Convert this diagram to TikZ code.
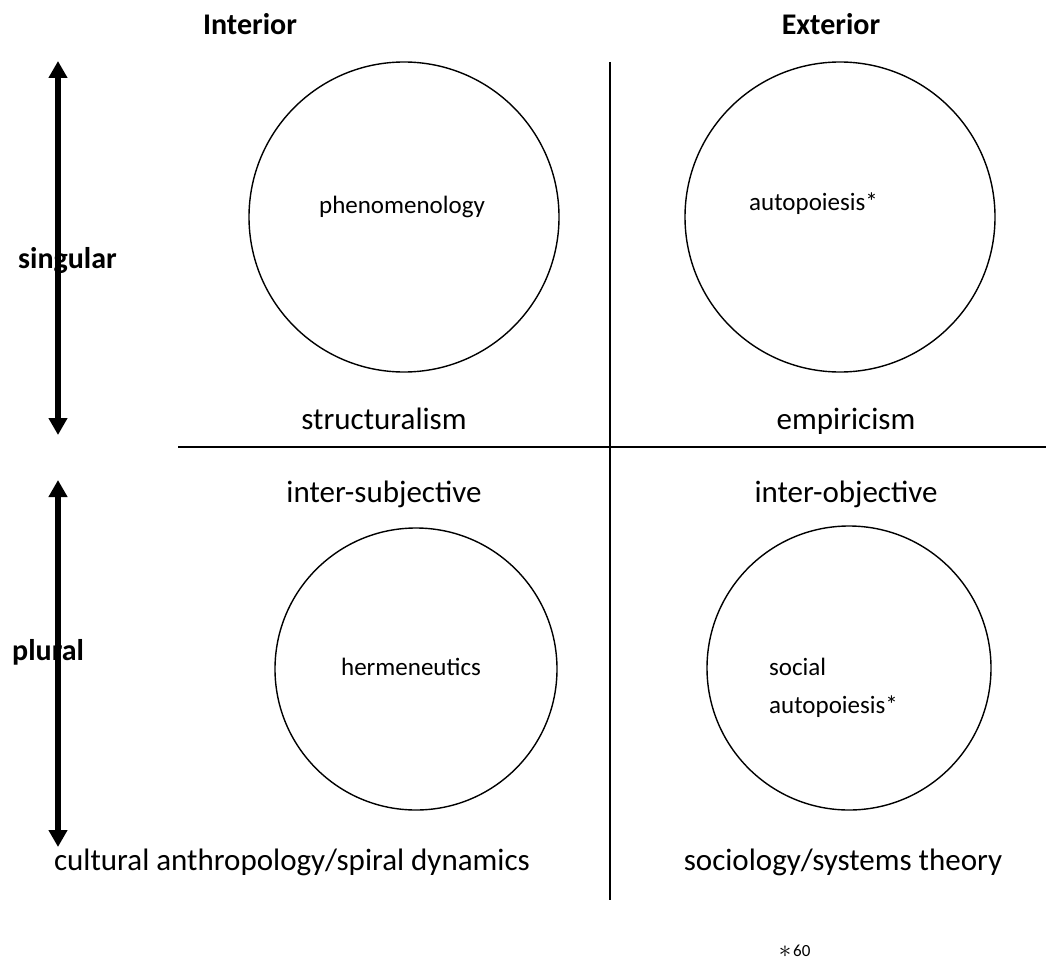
\documentclass[tikz,border=0pt]{standalone}
\usepackage{fontspec}
\setmainfont{Carlito}
\usetikzlibrary{arrows.meta}
\begin{document}
\begin{tikzpicture}[x=1pt,y=-1pt,
  big/.style={font=\fontsize{31}{36}\selectfont, inner sep=0pt, anchor=base},
  small/.style={font=\fontsize{25}{38}\selectfont, inner sep=0pt, anchor=base},
  head/.style={font=\fontsize{30}{36}\selectfont\bfseries, inner sep=0pt, anchor=base},
  ring/.style={draw, circle, line width=1.4pt, inner sep=0pt},
  divider/.style={line width=1.8pt},
  thick arrow/.style={line width=5.5pt, {Triangle[width=18pt,length=17pt]}-{Triangle[width=18pt,length=17pt]}}
]
\useasboundingbox (0,0) rectangle (1048,960);

% headings
\node[head] (interior) at (250,35) {Interior};
\node[head] (exterior) at (831,35) {Exterior};

% divider lines
\coordinate (vtop) at (610,62);
\coordinate (vbot) at (610,900);
\coordinate (hleft) at (178,447);
\coordinate (hright) at (1046,447);
\draw[divider] (vtop) -- (vbot);
\draw[divider] (hleft) -- (hright);

% arrows
\coordinate (a1t) at (58,61);
\coordinate (a1b) at (58,435);
\coordinate (a2t) at (58,480);
\coordinate (a2b) at (58,847);
\draw[thick arrow] (a1t) -- (a1b);
\draw[thick arrow] (a2t) -- (a2b);

% side labels
\node[head, anchor=base west] (singular) at (18,268) {singular};
\node[head, anchor=base west] (plural) at (12,660) {plural};

% circles
\node[ring, minimum size=310pt] (c1) at (404,217) {};
\node[ring, minimum size=310pt] (c2) at (840,217) {};
\node[ring, minimum size=282pt] (c3) at (416,669) {};
\node[ring, minimum size=284pt] (c4) at (849,668) {};

% circle texts
\node[small] (phen) at (402,213) {phenomenology};
\node[small, anchor=base west] (auto) at (749,210) {autopoiesis*};
\node[small] (herm) at (411,675) {hermeneutics};
\node[small, anchor=base west] (soc) at (769,675) {social};
\node[small, anchor=base west] (soc2) at (769,713) {autopoiesis*};

% quadrant labels
\node[big] (struct) at (384,429) {structuralism};
\node[big] (emp) at (846,429) {empiricism};
\node[big] (intsub) at (384,502) {inter-subjective};
\node[big] (intobj) at (846,502) {inter-objective};
\node[big] (cult) at (292,870) {cultural anthropology/spiral dynamics};
\node[big] (sociol) at (843,870) {sociology/systems theory};

% footnote mark
\node[inner sep=0pt] (fnstar) at (785,952) {\fontsize{32}{32}\selectfont$\ast$};
\node[inner sep=0pt, anchor=base west, font=\fontsize{17}{17}\selectfont] (fnnum) at (793,956) {60};
\end{tikzpicture}
\end{document}
